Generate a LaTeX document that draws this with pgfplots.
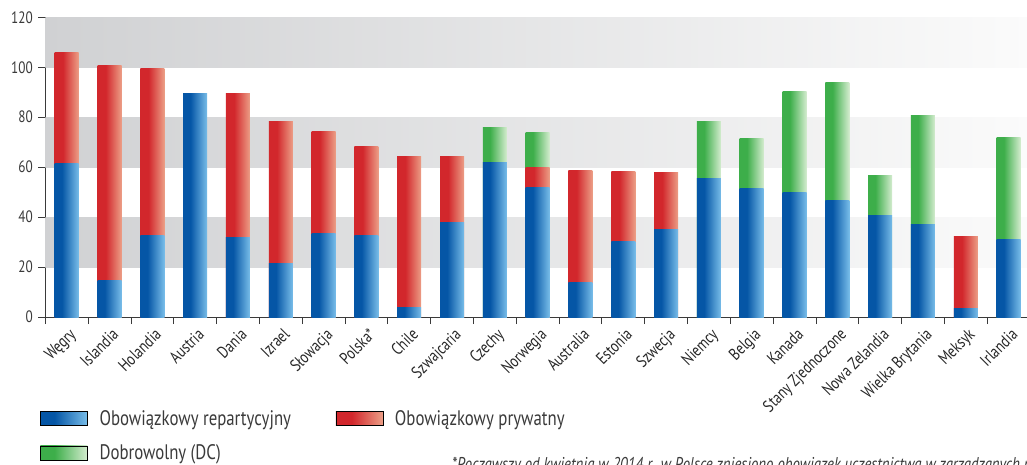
\documentclass[border=0pt]{standalone}
\usepackage{pgfplots}
\pgfplotsset{compat=1.18}
\usepackage{pgfplotstable}
\usepackage{fontspec}
\setmainfont[FakeStretch=0.8]{PT Sans}

\definecolor{bL}{HTML}{0556A6}
\definecolor{bR}{HTML}{78BDE9}
\definecolor{rL}{HTML}{D2272C}
\definecolor{rR}{HTML}{EC9E86}
\definecolor{gL}{HTML}{3DAE4A}
\definecolor{gR}{HTML}{D4ECCF}
\definecolor{bandL}{HTML}{D0D1D3}
\definecolor{bandR}{HTML}{FBFBFB}
\definecolor{axc}{HTML}{3A3A3A}

\pgfdeclarehorizontalshading{blueshade}{100bp}{color(0bp)=(bL); color(25bp)=(bL); color(40bp)=(bL); color(75bp)=(bR); color(100bp)=(bR)}
\pgfdeclarehorizontalshading{redshade}{100bp}{color(0bp)=(rL); color(25bp)=(rL); color(42bp)=(rL); color(75bp)=(rR); color(100bp)=(rR)}
\pgfdeclarehorizontalshading{greenshade}{100bp}{color(0bp)=(gL); color(25bp)=(gL); color(40bp)=(gL); color(75bp)=(gR); color(100bp)=(gR)}

% x: category index; b: obowiazkowy repartycyjny; r: obowiazkowy prywatny; g: dobrowolny (DC)
\pgfplotstableread{
x  b     r     g
0  61.4  44.4  0
1  14.8  85.8  0
2  32.6  66.8  0
3  89.4  0     0
4  31.8  57.6  0
5  21.4  56.8  0
6  33.4  40.7  0
7  32.6  35.5  0
8  4.0   60.1  0
9  37.7  26.4  0
10 61.7  0     14.1
11 51.7  8.0   14.0
12 14.0  44.5  0
13 30.2  27.9  0
14 35.0  22.7  0
15 55.3  0     22.9
16 51.3  0     20.0
17 49.7  0     40.5
18 46.5  0     47.3
19 40.5  0     16.0
20 36.9  0     43.7
21 3.6   28.5  0
22 30.9  0     40.8
}\data

\begin{document}
\begin{tikzpicture}
\useasboundingbox (0,0) rectangle (1027pt,464pt);
\clip (0,0) rectangle (1027pt,464pt);
\begin{axis}[
  at={(45.3pt,147pt)}, anchor=south west,
  scale only axis, width=984.7pt, height=299.7pt,
  xmin=-0.5, xmax=22.5, ymin=0, ymax=120,
  axis lines*=left,
  axis line style={axc, line width=0.8pt, -},
  ytick={0,20,...,120},
  xtick={-0.5,0.5,...,22.5},
  x tick label as interval,
  xticklabels={W\k{e}gry,Islandia,Holandia,Austria,Dania,Izrael,S\l{}owacja,Polska*,Chile,Szwajcaria,Czechy,Norwegia,Australia,Estonia,Szwecja,Niemcy,Belgia,Kanada,Stany Zjednoczone,Nowa Zelandia,Wielka Brytania,Meksyk,Irlandia},
  tick align=outside,
  major tick length=7pt,
  tick style={axc, line width=0.8pt},
  /pgf/number format/assume math mode=true,
  yticklabel style={font=\fontsize{16.5}{16.5}\selectfont, text=axc, xshift=-2pt},
  xticklabel style={font=\fontsize{17}{17}\selectfont, text=black!85, rotate=45, anchor=north east, inner sep=1pt, yshift=-2pt},
  legend columns=2,
  legend style={at={(axis description cs:-0.0054,-0.3036)}, anchor=north west, draw=none, fill=none, inner sep=0pt,
    font=\fontsize{21}{21}\selectfont, text=axc, row sep=14pt,
    /tikz/every odd column/.append style={column sep=10pt},
    /tikz/every even column/.append style={column sep=0pt},
    cells={anchor=west}},
]
\fill[left color=bandL, right color=bandR] (axis cs:-0.5,20) rectangle (axis cs:22.5,40);
\fill[left color=bandL, right color=bandR] (axis cs:-0.5,60) rectangle (axis cs:22.5,80);
\fill[left color=bandL, right color=bandR] (axis cs:-0.5,100) rectangle (axis cs:22.5,120);

\pgfplotsinvokeforeach{10,11,15,16,17,18,19,20,22}{
  \addplot[ybar, bar width=0.56, bar shift=0pt, draw=none, shade, shading=greenshade, forget plot]
    table[x=x, y expr=\thisrow{b}+\thisrow{r}+\thisrow{g}, restrict x to domain=#1:#1] {\data};
}
\pgfplotsinvokeforeach{0,1,2,4,5,6,7,8,9,11,12,13,14,21}{
  \addplot[ybar, bar width=0.56, bar shift=0pt, draw=none, shade, shading=redshade, forget plot]
    table[x=x, y expr=\thisrow{b}+\thisrow{r}, restrict x to domain=#1:#1] {\data};
}
\pgfplotsinvokeforeach{0,...,22}{
  \addplot[ybar, bar width=0.56, bar shift=0pt, draw=none, shade, shading=blueshade, forget plot]
    table[x=x, y=b, restrict x to domain=#1:#1] {\data};
}

\addlegendimage{legend image code/.code={\shade[shading=blueshade] (0pt,-7pt) rectangle (47pt,7pt);}}
\addlegendentry{\makebox[234pt][l]{Obowi\k{a}zkowy repartycyjny}}
\addlegendimage{legend image code/.code={\shade[shading=redshade] (0pt,-7pt) rectangle (47pt,7pt);}}
\addlegendentry{Obowi\k{a}zkowy prywatny}
\addlegendimage{legend image code/.code={\shade[shading=greenshade] (0pt,-7pt) rectangle (47pt,7pt);}}
\addlegendentry{Dobrowolny (DC)}
\end{axis}
\node[anchor=base west, inner sep=0pt, font=\itshape\fontsize{18.5}{18.5}\selectfont, text=axc] at (452pt,-6pt)
  {*Pocz\k{a}wszy od kwietnia w 2014 r., w Polsce zniesiono obowi\k{a}zek uczestnictwa w zarz\k{a}dzanych przez OFE};
\end{tikzpicture}
\end{document}
